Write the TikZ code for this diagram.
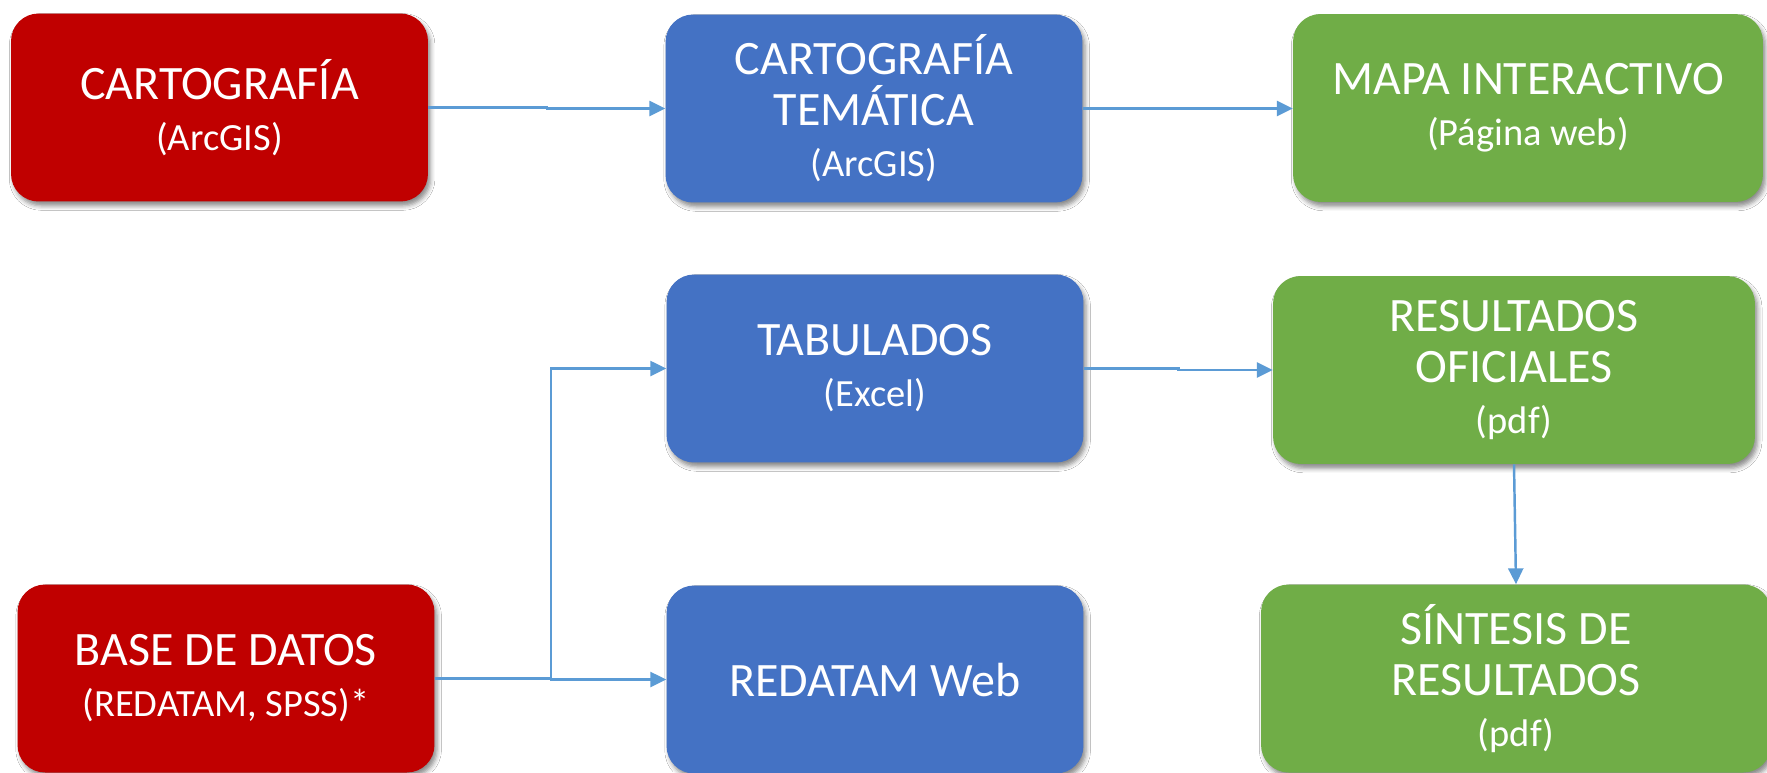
\documentclass[tikz,border=0pt]{standalone}
\usepackage{fontspec}
\setmainfont{Carlito}
\usetikzlibrary{arrows.meta,shadows.blur,calc}
\definecolor{boxred}{HTML}{C00000}
\definecolor{boxblue}{HTML}{4472C4}
\definecolor{boxgreen}{HTML}{70AD47}
\definecolor{linkblue}{HTML}{5B9BD5}
\newcommand{\titlesize}{\fontsize{27.3}{29}\selectfont}
\newcommand{\subsize}{\fontsize{21.9}{29}\selectfont}

\begin{document}
\begin{tikzpicture}[x=0.02cm, y=-0.02cm,
    box/.style={rounded corners=0.55cm, text=white, align=center, inner sep=0pt,
        minimum height=3.76cm, font=\titlesize,
        blur shadow={shadow xshift=1.5pt, shadow yshift=-2.5pt, shadow blur radius=2.5pt, shadow opacity=45}},
    redbox/.style={box, fill=boxred, minimum width=8.34cm},
    bluebox/.style={box, fill=boxblue, minimum width=8.34cm},
    greenbox/.style={box, fill=boxgreen},
    link/.style={draw=linkblue, line width=1.4pt, -{Triangle[length=9pt,width=8.5pt]}}]
    \path[use as bounding box, fill=white] (0,0) rectangle (1767,772);

    % top row
    \node[redbox] (carto) at (219.5,107.5) {CARTOGRAFÍA\\\subsize (ArcGIS)};
    \node[bluebox] (tema) at (874,108.5) {CARTOGRAFÍA\\TEMÁTICA\\\subsize (ArcGIS)};
    \node[greenbox, minimum width=9.4cm] (mapa) at (1528,108) {MAPA INTERACTIVO\\\subsize (Página web)};

    % middle row
    \node[bluebox] (tab) at (875,368.5) {TABULADOS\\\subsize (Excel)};
    \node[greenbox, minimum width=9.64cm] (res) at (1514,370) {RESULTADOS\\OFICIALES\\\subsize (pdf)};

    % bottom row
    \node[redbox] (base) at (226,678.5) {BASE DE DATOS\\\subsize (REDATAM, SPSS)*};
    \node[bluebox] (redatam) at (875,679.5) {REDATAM Web};
    \node[greenbox, minimum width=10.2cm] (sint) at (1516,678.5) {SÍNTESIS DE\\RESULTADOS\\\subsize (pdf)};

    % connectors
    \coordinate (j1) at ($(carto.east)!0.5!(tema.west)$);
    \draw[link] (carto.east) -| (j1) |- (tema.west);
    \draw[link] (tema.east) -- (tema.east -| mapa.west);
    \coordinate (j2) at ($(tab.east)!0.5!(res.west)$);
    \draw[link] (tab.east) -| (j2) |- (res.west);
    \coordinate (fork) at ($(base.east)+(116,0)$);
    \draw[link] (base.east) -- (fork) |- (tab.west);
    \draw[link] (fork) |- (redatam.west);
    \draw[link] (res.south) -- (sint.north);
\end{tikzpicture}
\end{document}
